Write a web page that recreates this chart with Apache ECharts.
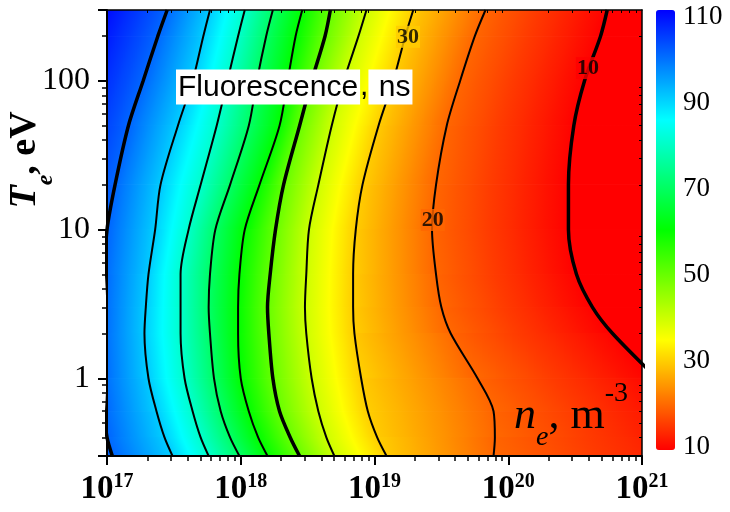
<!DOCTYPE html>
<html><head><meta charset="utf-8">
<script src="https://cdn.jsdelivr.net/npm/echarts@6/dist/echarts.min.js"></script>
<style>html,body{margin:0;padding:0;background:#fff}#c{width:730px;height:512px}</style>
</head><body><div id="c"></div>
<script>
// Temperature rows (eV) at which contour crossings were read
const T_ROWS = [300, 200, 100, 50, 20, 10, 5, 3, 2, 1, 0.6, 0.4, 0.3];
// Contour levels (ns); 0 and 110 are outer bounds lying outside the plotted range
const LEVELS = [0, 10, 20, 30, 40, 50, 60, 70, 80, 90, 100, 110];
// log10(n_e) positions of each contour at the rows above
const C0   = [22.0, 22.0, 22.0, 22.0, 22.0, 22.0, 22.0, 22.0, 22.0, 22.0, 22.0, 22.0, 22.0];
const C10  = [20.74, 20.69, 20.57, 20.49, 20.45, 20.45, 20.51, 20.63, 20.78, 21.11, 21.36, 21.55, 21.70];
const C20  = [19.83, 19.75, 19.64, 19.54, 19.46, 19.43, 19.46, 19.50, 19.57, 19.77, 19.89, 19.90, 19.89];
const C30  = [19.29, 19.23, 19.14, 19.03, 18.91, 18.86, 18.84, 18.84, 18.85, 18.90, 18.95, 19.02, 19.09];
const C40  = [18.94, 18.88, 18.77, 18.68, 18.58, 18.51, 18.49, 18.48, 18.49, 18.53, 18.58, 18.64, 18.70];
const C50  = [18.67, 18.63, 18.53, 18.44, 18.32, 18.26, 18.22, 18.20, 18.21, 18.24, 18.29, 18.37, 18.44];
const C60  = [18.46, 18.41, 18.35, 18.29, 18.14, 18.03, 17.99, 17.98, 17.98, 18.00, 18.06, 18.13, 18.20];
const C70  = [18.24, 18.19, 18.12, 18.06, 17.92, 17.81, 17.77, 17.76, 17.77, 17.80, 17.85, 17.92, 17.99];
const C80  = [18.03, 17.98, 17.90, 17.82, 17.70, 17.61, 17.55, 17.55, 17.55, 17.58, 17.64, 17.70, 17.76];
const C90  = [17.77, 17.72, 17.64, 17.53, 17.40, 17.36, 17.31, 17.29, 17.28, 17.31, 17.37, 17.43, 17.49];
const C100 = [17.45, 17.38, 17.27, 17.16, 17.06, 17.00, 16.98, 16.97, 16.97, 16.97, 16.98, 17.00, 17.04];
const C110 = [16.95, 16.87, 16.76, 16.65, 16.50, 16.35, 16.00, 16.00, 16.00, 16.00, 16.00, 16.00, 16.00];
const CONTOURS = [C0, C10, C20, C30, C40, C50, C60, C70, C80, C90, C100, C110];
// Drawn contour levels and which are drawn heavy
const DRAWN_LEVELS = [10, 20, 30, 40, 50, 60, 70, 80, 90, 100];
const HEAVY_LEVELS = [10, 50, 100];
// In-line contour labels
const LABEL_LEVELS = [30, 20, 10];
const LABEL_N = [1.78e19, 2.73e19, 3.94e20];
const LABEL_T = [198, 11.6, 122];
// Axis ranges
const X_MIN = 1e17, X_MAX = 1e21, Y_MIN = 0.3, Y_MAX = 300;
// Color scale
const SCALE_MIN = 10, SCALE_MAX = 110;
const RAINBOW = ['#ff0000', '#ffff00', '#00ff00', '#00ffff', '#0000ff'];

function hexRgb(h){return [parseInt(h.substr(1,2),16),parseInt(h.substr(3,2),16),parseInt(h.substr(5,2),16)];}
const PAL = RAINBOW.map(hexRgb);
function colorAt(v){
  let t = (v - SCALE_MIN) / (SCALE_MAX - SCALE_MIN);
  t = Math.max(0, Math.min(1, t));
  const s = t * (PAL.length - 1);
  const i = Math.min(PAL.length - 2, Math.floor(s));
  const f = s - i;
  const a = PAL[i], b = PAL[i+1];
  return 'rgb(' + [0,1,2].map(c => Math.round(a[c] + (b[c]-a[c])*f)).join(',') + ')';
}

// minor tick positions of the log axes (2..9 x 10^k inside the range)
function minorTicks(lo, hi){
  const out = [];
  for (let e = Math.floor(Math.log10(lo)); e <= Math.ceil(Math.log10(hi)); e++) {
    for (let m = 2; m <= 9; m++) {
      const v = m * Math.pow(10, e);
      if (v > lo * 1.0001 && v < hi * 0.9999) out.push(v);
    }
  }
  return out;
}
const MINOR_X = minorTicks(X_MIN, X_MAX);
const MINOR_Y = minorTicks(Y_MIN, Y_MAX);

const fillData = [];
for (let k = 0; k < LEVELS.length - 1; k++) {
  for (let j = 0; j < T_ROWS.length - 1; j++) {
    fillData.push([Math.pow(10, CONTOURS[k+1][j]), T_ROWS[j], k, j]);
  }
}

function renderBand(params, api){
  const k = api.value(2), j = api.value(3);
  const lo = CONTOURS[k], hi = CONTOURS[k+1];
  const vLo = LEVELS[k], vHi = LEVELS[k+1];
  const P1 = api.coord([Math.pow(10, hi[j]), T_ROWS[j]]);
  const P2 = api.coord([Math.pow(10, lo[j]), T_ROWS[j]]);
  const P3 = api.coord([Math.pow(10, lo[j+1]), T_ROWS[j+1]]);
  const P4 = api.coord([Math.pow(10, hi[j+1]), T_ROWS[j+1]]);
  let dx = (P4[0]-P1[0]) + (P3[0]-P2[0]), dy = (P4[1]-P1[1]) + (P3[1]-P2[1]);
  const dl = Math.hypot(dx, dy) || 1; dx /= dl; dy /= dl;
  const nx = -dy, ny = dx;
  const mL = [(P1[0]+P4[0])/2, (P1[1]+P4[1])/2];
  const mR = [(P2[0]+P3[0])/2, (P2[1]+P3[1])/2];
  let proj = (mR[0]-mL[0])*nx + (mR[1]-mL[1])*ny;
  if (Math.abs(proj) < 1e-3) proj = 1e-3;
  const stops = [];
  const N = 12;
  for (let s = 0; s <= N; s++) {
    stops.push({offset: s/N, color: colorAt(vHi + (vLo - vHi) * s / N)});
  }
  const grad = {type: 'linear', x: mL[0], y: mL[1], x2: mL[0] + nx*proj, y2: mL[1] + ny*proj, colorStops: stops, global: true};
  return {type: 'polygon', shape: {points: [P1, P2, P3, P4]}, style: {fill: grad, stroke: grad, lineWidth: 1}};
}

const SERIF = 'Liberation Serif';
const series = [{
  type: 'custom', name: 'fill', xAxisIndex: 0, yAxisIndex: 0, clip: true, z: 1,
  renderItem: renderBand, data: fillData, silent: true
}];
DRAWN_LEVELS.forEach(L => {
  const arr = CONTOURS[LEVELS.indexOf(L)];
  series.push({
    type: 'line', name: 'c' + L, xAxisIndex: 0, yAxisIndex: 0, z: 3, clip: true,
    smooth: 0.3, symbol: 'none', silent: true,
    lineStyle: {color: '#000', width: HEAVY_LEVELS.includes(L) ? 3.5 : 2},
    data: T_ROWS.map((T, j) => [Math.pow(10, arr[j]), T])
  });
});
const labelSeriesIndex = series.length;
series.push({
  type: 'scatter', name: 'labels', xAxisIndex: 0, yAxisIndex: 0, z: 6, symbolSize: 0, silent: true,
  label: {show: true, position: 'inside', formatter: p => String(p.value[2]),
    fontFamily: SERIF, fontWeight: 'bold', fontSize: 22, color: '#000', padding: [0, 1]},
  data: LABEL_LEVELS.map((L, i) => ({
    value: [LABEL_N[i], LABEL_T[i], L],
    label: {backgroundColor: colorAt(L)}
  }))
});

function isPow10(v){const e = Math.log10(v); return Math.abs(e - Math.round(e)) < 1e-6;}
const hidden = {axisLine: {show: false}, axisLabel: {show: false}, splitLine: {show: false}};

const option = {
  animation: false,
  backgroundColor: '#fff',
  title: {
    left: 176, top: 72, padding: 0,
    text: '{box|Fluorescence}{c|,}{box| ns}',
    textStyle: {
      fontWeight: 'normal',
      rich: {
        box: {fontFamily: 'Liberation Sans', fontWeight: 'normal', fontSize: 30, color: '#000', backgroundColor: '#fff', padding: [3, 2, 2, 2], lineHeight: 30},
        c: {fontFamily: 'Liberation Sans', fontWeight: 'normal', fontSize: 30, color: '#000', lineHeight: 30}
      }
    }
  },
  grid: [
    {left: 107, right: 88, top: 10, bottom: 56, containLabel: false, outerBoundsMode: 'none'},
    {left: 676, top: 17, width: 1, height: 430, containLabel: false, outerBoundsMode: 'none'}
  ],
  xAxis: [{
    type: 'log', gridIndex: 0, min: X_MIN, max: X_MAX, logBase: 10, z: 5,
    name: '{n|n}{e|e}{r|, m}{s|-3}', nameLocation: 'end', nameGap: -14, nameMoveOverlap: false,
    nameTextStyle: {align: 'right', verticalAlign: 'bottom', rich: {
      n: {fontFamily: SERIF, fontSize: 44, fontStyle: 'italic', color: '#000', lineHeight: 44, verticalAlign: 'bottom', padding: [0, 0, 18, 0]},
      e: {fontFamily: SERIF, fontSize: 28, fontStyle: 'italic', color: '#000', lineHeight: 28, verticalAlign: 'bottom', padding: [0, 0, 4, 0]},
      r: {fontFamily: SERIF, fontSize: 44, color: '#000', lineHeight: 44, verticalAlign: 'bottom', padding: [0, 0, 18, 0]},
      s: {fontFamily: SERIF, fontSize: 28, color: '#000', lineHeight: 28, verticalAlign: 'bottom', padding: [0, 0, 48, 0]}
    }},
    axisLine: {show: true, onZero: false, lineStyle: {color: '#000', width: 2}},
    axisTick: {show: true, inside: false, length: 9, lineStyle: {color: '#000', width: 2}},
    splitLine: {show: false},
    axisLabel: {margin: 16, formatter: v => '{b|10}{s|' + Math.round(Math.log10(v)) + '}',
      rich: {
        b: {fontFamily: SERIF, fontSize: 33, fontWeight: 'bold', color: '#000', verticalAlign: 'bottom', lineHeight: 34, padding: [8, 0, 0, 0]},
        s: {fontFamily: SERIF, fontSize: 20, fontWeight: 'bold', color: '#000', verticalAlign: 'top', lineHeight: 20}
      }}
  }, {
    type: 'log', gridIndex: 0, position: 'top', min: X_MIN, max: X_MAX, z: 5,
    axisLine: {show: true, onZero: false, lineStyle: {color: '#000', width: 1.5}},
    axisTick: {show: true, inside: true, length: 3, customValues: MINOR_X, lineStyle: {color: '#000', width: 1}},
    axisLabel: {show: false}, splitLine: {show: false}
  }, Object.assign({
    type: 'value', gridIndex: 1, show: false
  }), Object.assign({
    type: 'log', gridIndex: 0, position: 'bottom', offset: 0, min: X_MIN, max: X_MAX, z: 5,
    axisTick: {show: true, inside: false, length: 5, customValues: MINOR_X, lineStyle: {color: '#000', width: 1.5}}
  }, hidden)],
  yAxis: [{
    type: 'log', gridIndex: 0, min: Y_MIN, max: Y_MAX, logBase: 10, z: 5,
    name: '{T|T}{e|e}{r|, eV}', nameLocation: 'middle', nameRotate: 90, nameGap: 49, nameMoveOverlap: false,
    nameTextStyle: {padding: [0, 0, 0, 146], rich: {
      T: {fontFamily: SERIF, fontSize: 38, fontWeight: 'bold', fontStyle: 'italic', color: '#000', lineHeight: 38, verticalAlign: 'bottom', padding: [0, 0, 14, 0]},
      e: {fontFamily: SERIF, fontSize: 24, fontWeight: 'bold', fontStyle: 'italic', color: '#000', lineHeight: 24, verticalAlign: 'bottom'},
      r: {fontFamily: SERIF, fontSize: 38, fontWeight: 'bold', color: '#000', lineHeight: 38, verticalAlign: 'bottom', padding: [0, 0, 14, 0]}
    }},
    axisLine: {show: true, onZero: false, lineStyle: {color: '#000', width: 2}},
    axisTick: {show: true, inside: false, length: 9, lineStyle: {color: '#000', width: 2}},
    splitLine: {show: false},
    axisLabel: {margin: 17, fontFamily: SERIF, fontSize: 32, color: '#000',
      formatter: v => isPow10(v) ? String(Math.round(v)) : ''}
  }, {
    type: 'log', gridIndex: 0, position: 'right', min: Y_MIN, max: Y_MAX, z: 5,
    axisLine: {show: true, onZero: false, lineStyle: {color: '#000', width: 1.5}},
    axisTick: {show: true, inside: true, length: 3, customValues: MINOR_Y, lineStyle: {color: '#000', width: 1}},
    axisLabel: {show: false}, splitLine: {show: false}
  }, {
    type: 'value', gridIndex: 1, position: 'right', min: SCALE_MIN, max: SCALE_MAX, interval: 20,
    axisLine: {show: false}, axisTick: {show: false}, splitLine: {show: false},
    axisLabel: {margin: 6, fontFamily: SERIF, fontSize: 27, color: '#000'}
  }, Object.assign({
    type: 'log', gridIndex: 0, position: 'left', offset: 0, min: Y_MIN, max: Y_MAX, z: 5,
    axisTick: {show: true, inside: false, length: 5, customValues: MINOR_Y, lineStyle: {color: '#000', width: 1.5}}
  }, hidden)],
  visualMap: {
    type: 'continuous', min: SCALE_MIN, max: SCALE_MAX, seriesIndex: labelSeriesIndex, dimension: 2,
    inRange: {color: RAINBOW}, calculable: false, orient: 'vertical',
    left: 651, top: 5, padding: 5, itemWidth: 19, itemHeight: 440, text: null,
    textStyle: {fontSize: 0}
  },
  series: series
};
const chart = echarts.init(document.getElementById('c'), null, {renderer: 'canvas'});
chart.setOption(option);
</script></body></html>
